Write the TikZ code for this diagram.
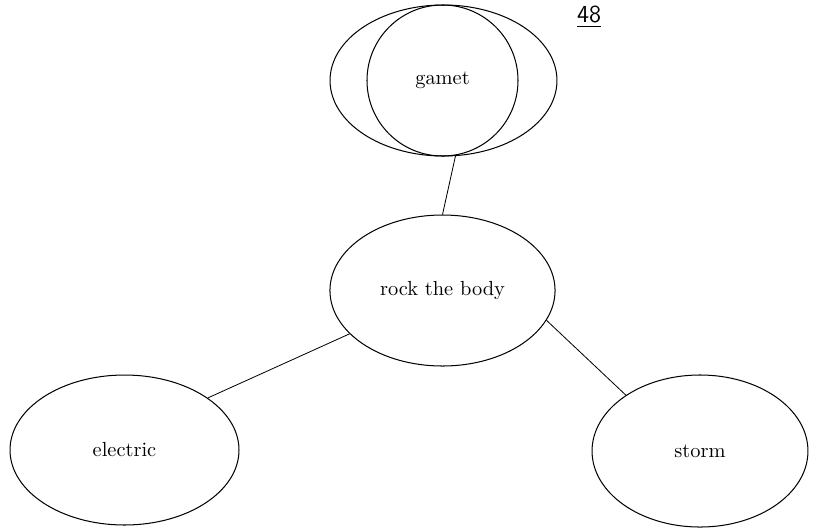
\documentclass[tikz,border=0pt]{standalone}
\usetikzlibrary{shapes.geometric}
\begin{document}
\begin{tikzpicture}[x=0.49pt, y=-0.49pt]
			\tikzstyle{every node}=[font=\normalsize]
			\tikzstyle{bubble}=[draw, ellipse, inner sep=0pt, line width=0.5pt]
			\useasboundingbox (0,0) rectangle (817,528);
			\node [bubble, minimum width=111.2pt, minimum height=74pt] (gametout) at (443.5,80.5) {};
			\node [bubble, circle, minimum size=74pt] (gamet) at (442.5,80.5) {gamet};
			\node [bubble, minimum width=110.3pt, minimum height=74pt] (rock) at (442.5,290.5) {rock the body};
			\node [bubble, minimum width=112.2pt, minimum height=73.5pt] (electric) at (124.5,450) {electric};
			\node [bubble, minimum width=105.8pt, minimum height=74.5pt] (storm) at (700,451) {storm};
			\node [font=\large\sffamily] (num) at (589,17) {\underline{48}};
			\draw (gametout.-81) -- (rock.90);
			\draw (rock.-155) -- (electric.32);
			\draw (rock.-16) -- (storm.143);
		\end{tikzpicture}
\end{document}
